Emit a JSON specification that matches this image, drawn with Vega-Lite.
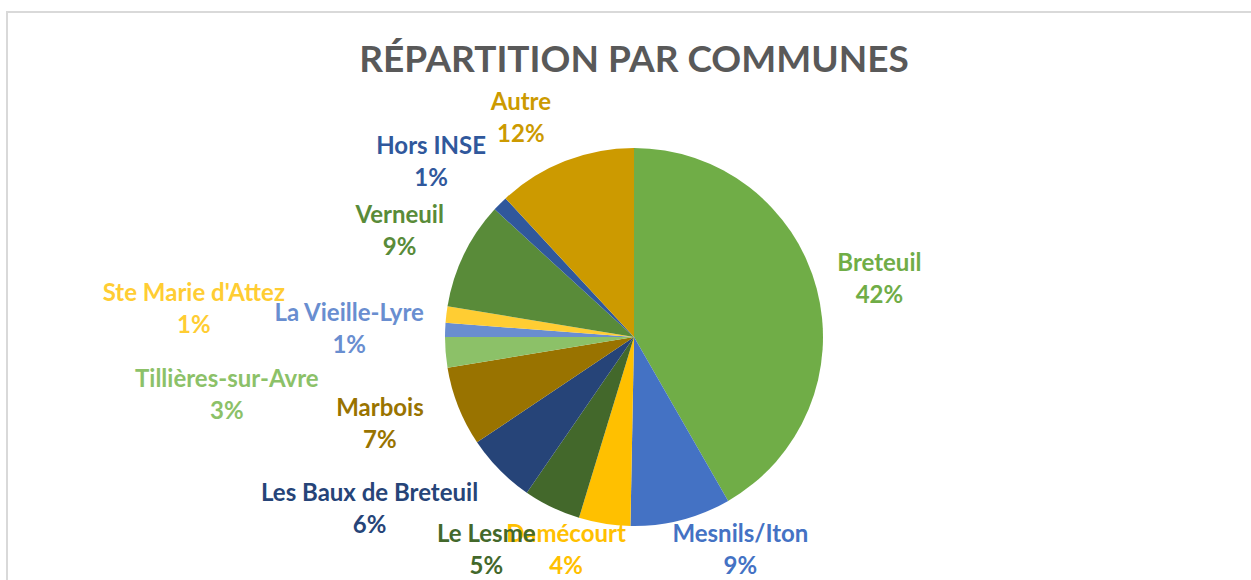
{
  "$schema": "https://vega.github.io/schema/vega-lite/v6.json",
  "width": 1254,
  "height": 650,
  "autosize": {"type": "none"},
  "padding": {"left": 7, "top": 12, "right": 0, "bottom": 0},
  "background": "white",
  "view": {"stroke": "#d9d9d9", "strokeWidth": 2},
  "config": {
    "view": {"stroke": "#d9d9d9", "strokeWidth": 2},
    "font": "Lato"
  },
  "title": {
    "text": "RÉPARTITION PAR COMMUNES",
    "font": "Lato",
    "fontSize": 37,
    "fontWeight": "bold",
    "color": "#595959",
    "anchor": "middle",
    "baseline": "alphabetic",
    "offset": -62,
    "dy": 35
  },
  "data": {
    "values": [
      {"idx": 0, "commune": "Breteuil", "share": 41.7, "pct": "42%"},
      {"idx": 1, "commune": "Mesnils/Iton", "share": 8.6, "pct": "9%"},
      {"idx": 2, "commune": "Damécourt", "share": 4.4, "pct": "4%"},
      {"idx": 3, "commune": "Le Lesme", "share": 4.9, "pct": "5%"},
      {"idx": 4, "commune": "Les Baux de Breteuil", "share": 6.0, "pct": "6%"},
      {"idx": 5, "commune": "Marbois", "share": 6.8, "pct": "7%"},
      {"idx": 6, "commune": "Tillières-sur-Avre", "share": 2.6, "pct": "3%"},
      {"idx": 7, "commune": "La Vieille-Lyre", "share": 1.2, "pct": "1%"},
      {"idx": 8, "commune": "Ste Marie d'Attez", "share": 1.4, "pct": "1%"},
      {"idx": 9, "commune": "Verneuil", "share": 9.2, "pct": "9%"},
      {"idx": 10, "commune": "Hors INSE", "share": 1.3, "pct": "1%"},
      {"idx": 11, "commune": "Autre", "share": 11.9, "pct": "12%"}
    ]
  },
  "encoding": {
    "theta": {"field": "share", "type": "quantitative", "stack": true},
    "order": {"field": "idx", "type": "quantitative"},
    "color": {
      "field": "commune",
      "type": "nominal",
      "legend": null,
      "scale": {
        "domain": ["Breteuil", "Mesnils/Iton", "Damécourt", "Le Lesme", "Les Baux de Breteuil", "Marbois", "Tillières-sur-Avre", "La Vieille-Lyre", "Ste Marie d'Attez", "Verneuil", "Hors INSE", "Autre"],
        "range": ["#70AD47", "#4472C4", "#FFC000", "#43682B", "#264478", "#997300", "#8CC168", "#698ED0", "#FFCD33", "#598B39", "#30589C", "#CC9A00"]
      }
    }
  },
  "layer": [
    {
      "mark": {"type": "arc", "outerRadius": 189, "stroke": null}
    },
    {
      "mark": {
        "type": "text",
        "radius": 255,
        "font": "Lato",
        "fontSize": 24,
        "fontWeight": "bold",
        "align": "center",
        "baseline": "middle",
        "dx": {"expr": "[-1,43,-28,-37,-83,-17,-153,-30,-187,-5,-22,-20][datum.idx]"},
        "dy": {"expr": "[9,-33,-38,-16,-6,-6,38,3,3,6,6,19][datum.idx] - 16"}
      },
      "encoding": {"text": {"field": "commune", "type": "nominal"}}
    },
    {
      "mark": {
        "type": "text",
        "radius": 255,
        "font": "Lato",
        "fontSize": 24,
        "fontWeight": "bold",
        "align": "center",
        "baseline": "middle",
        "dx": {"expr": "[-1,43,-28,-37,-83,-17,-153,-30,-187,-5,-22,-20][datum.idx]"},
        "dy": {"expr": "[9,-33,-38,-16,-6,-6,38,3,3,6,6,19][datum.idx] + 16"}
      },
      "encoding": {"text": {"field": "pct", "type": "nominal"}}
    }
  ]
}
